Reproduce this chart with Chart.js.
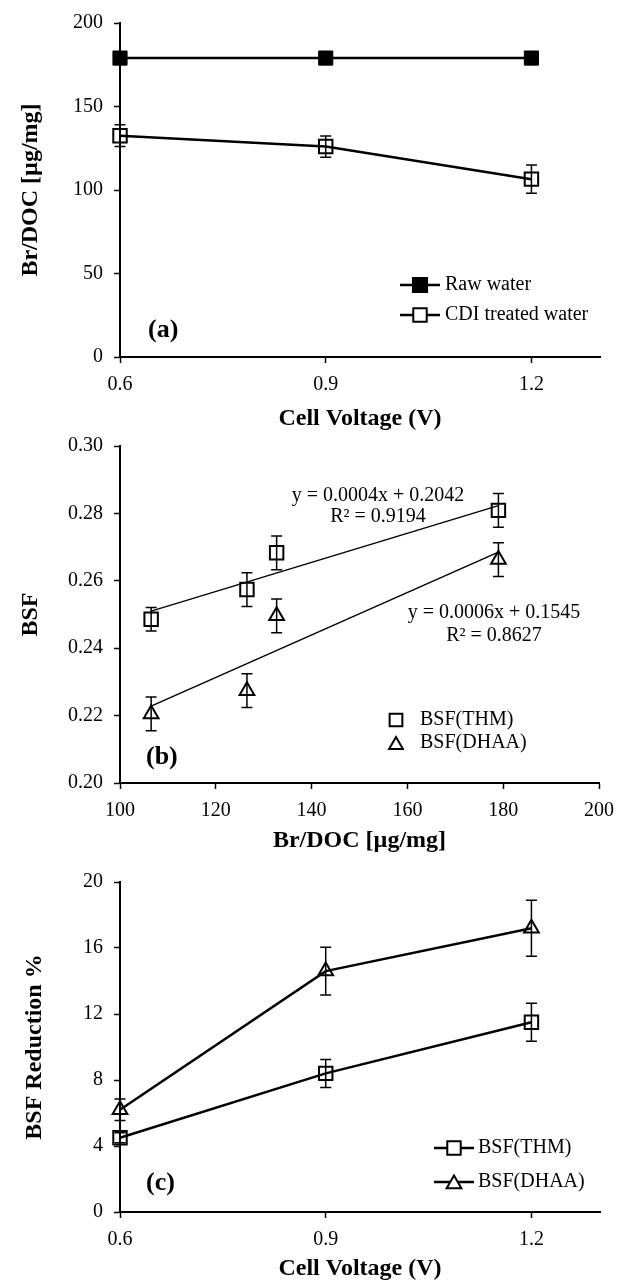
<!DOCTYPE html>
<html>
<head>
<meta charset="utf-8">
<script src="https://cdn.jsdelivr.net/npm/chart.js@4.4.0/dist/chart.umd.min.js"></script>
<style>
  body { margin: 0; background: #fff; width: 627px; height: 1283px; position: relative; overflow: hidden; }
  .panel { position: absolute; left: 0; width: 627px; }
</style>
</head>
<body>
<div class="panel" style="top:0;height:440px"><canvas id="chartA"></canvas></div>
<div class="panel" style="top:420px;height:440px"><canvas id="chartB"></canvas></div>
<div class="panel" style="top:850px;height:433px"><canvas id="chartC"></canvas></div>
<script>
// (a) Br/DOC vs cell voltage
const voltages = [0.6, 0.9, 1.2];
const rawWater = [179, 179, 179];
const cdiWater = [132.5, 126, 106.5];
const cdiErr = [6.5, 6.4, 8.5];

// (b) BSF vs Br/DOC
const brDoc = [106.5, 126.5, 132.7, 179];
const bsfThm = [0.2486, 0.2574, 0.2683, 0.2809];
const bsfThmErr = [0.0035, 0.005, 0.005, 0.005];
const bsfDhaa = [0.2205, 0.2274, 0.2496, 0.2663];
const bsfDhaaErr = [0.005, 0.005, 0.005, 0.005];
const trendX = [106.5, 179];
const thmTrend = [0.2510, 0.2823];
const dhaaTrend = [0.2228, 0.2685];

// (c) BSF reduction vs cell voltage
const redThm = [4.5, 8.4, 11.5];
const redThmErr = [0.3, 0.85, 1.15];
const redDhaa = [6.2, 14.6, 17.2];
const redDhaaErr = [0.65, 1.45, 1.7];

const SERIF = "'Liberation Serif', 'Times New Roman', serif";

function pts(xs, ys) {
  return xs.map((x, i) => ({ x: x, y: ys[i] }));
}

function drawMarker(ctx, shape, x, y, r, solid) {
  ctx.beginPath();
  if (shape === 'rect') {
    const h = r * Math.SQRT1_2;
    ctx.rect(x - h, y - h, 2 * h, 2 * h);
  } else {
    ctx.moveTo(x, y - r);
    ctx.lineTo(x + r * 0.866, y + r / 2);
    ctx.lineTo(x - r * 0.866, y + r / 2);
    ctx.closePath();
  }
  ctx.fillStyle = solid ? '#000' : '#fff';
  ctx.fill();
  ctx.stroke();
}

// legend + labels per panel (kept out of chart options)
const decor = {
  chartA: {
    legend: {
      x: 400, lineLen: 40, textX: 445, y: [285, 315],
      items: [
        { text: 'Raw water', shape: 'rect', size: 10, solid: true },
        { text: 'CDI treated water', shape: 'rect', size: 9.5, solid: false }
      ]
    },
    texts: [{ text: '(a)', x: 148, y: 330, font: 'bold 26px ' + SERIF }]
  },
  chartB: {
    legend: {
      x: 396, lineLen: 0, textX: 420, y: [300, 323],
      items: [
        { text: 'BSF(THM)', shape: 'rect', size: 9, solid: false },
        { text: 'BSF(DHAA)', shape: 'triangle', size: 8, solid: false }
      ]
    },
    texts: [
      { text: 'y = 0.0004x + 0.2042', x: 378, y: 76, align: 'center', font: '20px ' + SERIF },
      { text: 'R² = 0.9194', x: 378, y: 97, align: 'center', font: '20px ' + SERIF },
      { text: 'y = 0.0006x + 0.1545', x: 494, y: 193, align: 'center', font: '20px ' + SERIF },
      { text: 'R² = 0.8627', x: 494, y: 216, align: 'center', font: '20px ' + SERIF },
      { text: '(b)', x: 146, y: 337, font: 'bold 26px ' + SERIF }
    ]
  },
  chartC: {
    legend: {
      x: 434, lineLen: 40, textX: 478, y: [298, 332],
      items: [
        { text: 'BSF(THM)', shape: 'rect', size: 9.5, solid: false },
        { text: 'BSF(DHAA)', shape: 'triangle', size: 8.5, solid: false }
      ]
    },
    texts: [{ text: '(c)', x: 146, y: 333, font: 'bold 26px ' + SERIF }]
  }
};

// error bars, legend and labels
const panelDecor = {
  id: 'panelDecor',
  beforeDatasetsDraw(chart) {
    const ctx = chart.ctx;
    const yScale = chart.scales.y;
    ctx.save();
    ctx.strokeStyle = '#000';
    ctx.lineWidth = 1.5;
    chart.data.datasets.forEach((ds, i) => {
      if (!ds.errorBars) return;
      const meta = chart.getDatasetMeta(i);
      meta.data.forEach((pt, j) => {
        const v = ds.data[j].y;
        const e = ds.errorBars[j];
        const top = yScale.getPixelForValue(v + e);
        const bot = yScale.getPixelForValue(v - e);
        ctx.beginPath();
        ctx.moveTo(pt.x, top);
        ctx.lineTo(pt.x, bot);
        ctx.moveTo(pt.x - 5.5, top);
        ctx.lineTo(pt.x + 5.5, top);
        ctx.moveTo(pt.x - 5.5, bot);
        ctx.lineTo(pt.x + 5.5, bot);
        ctx.stroke();
      });
    });
    ctx.restore();
  },
  afterDatasetsDraw(chart) {
    const d = decor[chart.canvas.id];
    if (!d) return;
    const ctx = chart.ctx;
    ctx.save();
    ctx.strokeStyle = '#000';
    const lg = d.legend;
    lg.items.forEach((it, k) => {
      const y = lg.y[k];
      if (lg.lineLen) {
        ctx.lineWidth = 2.5;
        ctx.beginPath();
        ctx.moveTo(lg.x, y);
        ctx.lineTo(lg.x + lg.lineLen, y);
        ctx.stroke();
      }
      ctx.lineWidth = 2;
      const mx = lg.lineLen ? lg.x + lg.lineLen / 2 : lg.x;
      const my = it.shape === 'triangle' ? y + 2 : y;
      drawMarker(ctx, it.shape, mx, my, it.size, it.solid);
      ctx.fillStyle = '#000';
      ctx.font = '20px ' + SERIF;
      ctx.textAlign = 'left';
      ctx.textBaseline = 'middle';
      ctx.fillText(it.text, lg.textX, y);
    });
    d.texts.forEach(t => {
      ctx.fillStyle = '#000';
      ctx.font = t.font;
      ctx.textAlign = t.align || 'left';
      ctx.textBaseline = 'middle';
      ctx.fillText(t.text, t.x, t.y);
    });
    ctx.restore();
  }
};

function xAxis(cfg) {
  return {
    type: 'linear',
    min: cfg.min,
    max: cfg.max,
    afterBuildTicks: s => { s.ticks = cfg.ticks.map(v => ({ value: v })); },
    afterFit: s => { s.height = cfg.height; },
    grid: { drawOnChartArea: false, drawTicks: true, tickLength: 6, tickColor: '#000', tickWidth: 1.5 },
    border: { display: true, color: '#000', width: 2 },
    ticks: {
      color: '#000', padding: 10, maxRotation: 0, autoSkip: false,
      font: { family: SERIF, size: 20 },
      callback: v => cfg.fmt(v)
    },
    title: {
      display: true, text: cfg.title, color: '#000',
      font: { family: SERIF, size: 24, weight: 'bold' },
      padding: { top: 0, bottom: cfg.titlePad }
    }
  };
}

function yAxis(cfg) {
  return {
    type: 'linear',
    min: cfg.min,
    max: cfg.max,
    afterBuildTicks: s => { s.ticks = cfg.ticks.map(v => ({ value: v })); },
    afterFit: s => { s.width = 120; },
    grid: { drawOnChartArea: false, drawTicks: true, tickLength: 6, tickColor: '#000', tickWidth: 1.5 },
    border: { display: true, color: '#000', width: 2 },
    ticks: {
      color: '#000', padding: 11, autoSkip: false,
      font: { family: SERIF, size: 20 },
      callback: v => cfg.fmt(v)
    },
    title: {
      display: true, text: cfg.title, color: '#000',
      font: { family: SERIF, size: 24, weight: 'bold' },
      padding: { top: cfg.titlePad, bottom: 0 }
    }
  };
}

function baseOptions(pad, scales) {
  return {
    responsive: true,
    maintainAspectRatio: false,
    animation: false,
    layout: { padding: pad },
    plugins: {
      legend: { display: false },
      tooltip: { enabled: false }
    },
    scales: scales
  };
}

// chart (a)
new Chart(document.getElementById('chartA'), {
  type: 'line',
  data: {
    datasets: [
      {
        label: 'Raw water',
        data: pts(voltages, rawWater),
        borderColor: '#000', borderWidth: 2.5,
        pointStyle: 'rect', pointRadius: 10, pointBackgroundColor: '#000',
        pointBorderColor: '#000', pointBorderWidth: 1,
        clip: false, tension: 0
      },
      {
        label: 'CDI treated water',
        data: pts(voltages, cdiWater),
        errorBars: cdiErr,
        borderColor: '#000', borderWidth: 2.5,
        pointStyle: 'rect', pointRadius: 9.5, pointBackgroundColor: 'rgba(0,0,0,0)',
        pointBorderColor: '#000', pointBorderWidth: 2,
        clip: false, tension: 0
      }
    ]
  },
  options: baseOptions({ top: 18, right: 27, left: 0, bottom: 0 }, {
    x: xAxis({ min: 0.6, max: 1.3, ticks: voltages, height: 83, fmt: v => v.toFixed(1), title: 'Cell Voltage (V)', titlePad: 7 }),
    y: yAxis({ min: 0, max: 200, ticks: [0, 50, 100, 150, 200], fmt: v => String(v), title: 'Br/DOC [µg/mg]', titlePad: 16 })
  }),
  plugins: [panelDecor]
});

// chart (b)
new Chart(document.getElementById('chartB'), {
  type: 'scatter',
  data: {
    datasets: [
      {
        label: 'THM trend', type: 'line',
        data: pts(trendX, thmTrend),
        borderColor: '#000', borderWidth: 1.5, pointRadius: 0, clip: false
      },
      {
        label: 'DHAA trend', type: 'line',
        data: pts(trendX, dhaaTrend),
        borderColor: '#000', borderWidth: 1.5, pointRadius: 0, clip: false
      },
      {
        label: 'BSF(THM)',
        data: pts(brDoc, bsfThm),
        errorBars: bsfThmErr,
        pointStyle: 'rect', pointRadius: 9.5, pointBackgroundColor: 'rgba(0,0,0,0)',
        pointBorderColor: '#000', pointBorderWidth: 2, clip: false
      },
      {
        label: 'BSF(DHAA)',
        data: pts(brDoc, bsfDhaa),
        errorBars: bsfDhaaErr,
        pointStyle: 'triangle', pointRadius: 8.5, pointBackgroundColor: 'rgba(0,0,0,0)',
        pointBorderColor: '#000', pointBorderWidth: 2, clip: false
      }
    ]
  },
  options: baseOptions({ top: 26, right: 28, left: 0, bottom: 0 }, {
    x: xAxis({ min: 100, max: 200, ticks: [100, 120, 140, 160, 180, 200], height: 77, fmt: v => String(v), title: 'Br/DOC [µg/mg]', titlePad: 5 }),
    y: yAxis({ min: 0.2, max: 0.3, ticks: [0.2, 0.22, 0.24, 0.26, 0.28, 0.3], fmt: v => v.toFixed(2), title: 'BSF', titlePad: 16 })
  }),
  plugins: [panelDecor]
});

// chart (c)
new Chart(document.getElementById('chartC'), {
  type: 'line',
  data: {
    datasets: [
      {
        label: 'BSF(THM)',
        data: pts(voltages, redThm),
        errorBars: redThmErr,
        borderColor: '#000', borderWidth: 2.5,
        pointStyle: 'rect', pointRadius: 9.5, pointBackgroundColor: 'rgba(0,0,0,0)',
        pointBorderColor: '#000', pointBorderWidth: 2,
        clip: false, tension: 0
      },
      {
        label: 'BSF(DHAA)',
        data: pts(voltages, redDhaa),
        errorBars: redDhaaErr,
        borderColor: '#000', borderWidth: 2.5,
        pointStyle: 'triangle', pointRadius: 8.5, pointBackgroundColor: 'rgba(0,0,0,0)',
        pointBorderColor: '#000', pointBorderWidth: 2,
        clip: false, tension: 0
      }
    ]
  },
  options: baseOptions({ top: 32, right: 27, left: 0, bottom: 0 }, {
    x: xAxis({ min: 0.6, max: 1.3, ticks: voltages, height: 71, fmt: v => v.toFixed(1), title: 'Cell Voltage (V)', titlePad: 0 }),
    y: yAxis({ min: 0, max: 20, ticks: [0, 4, 8, 12, 16, 20], fmt: v => String(v), title: 'BSF Reduction %', titlePad: 20 })
  }),
  plugins: [panelDecor]
});
</script>
</body>
</html>
